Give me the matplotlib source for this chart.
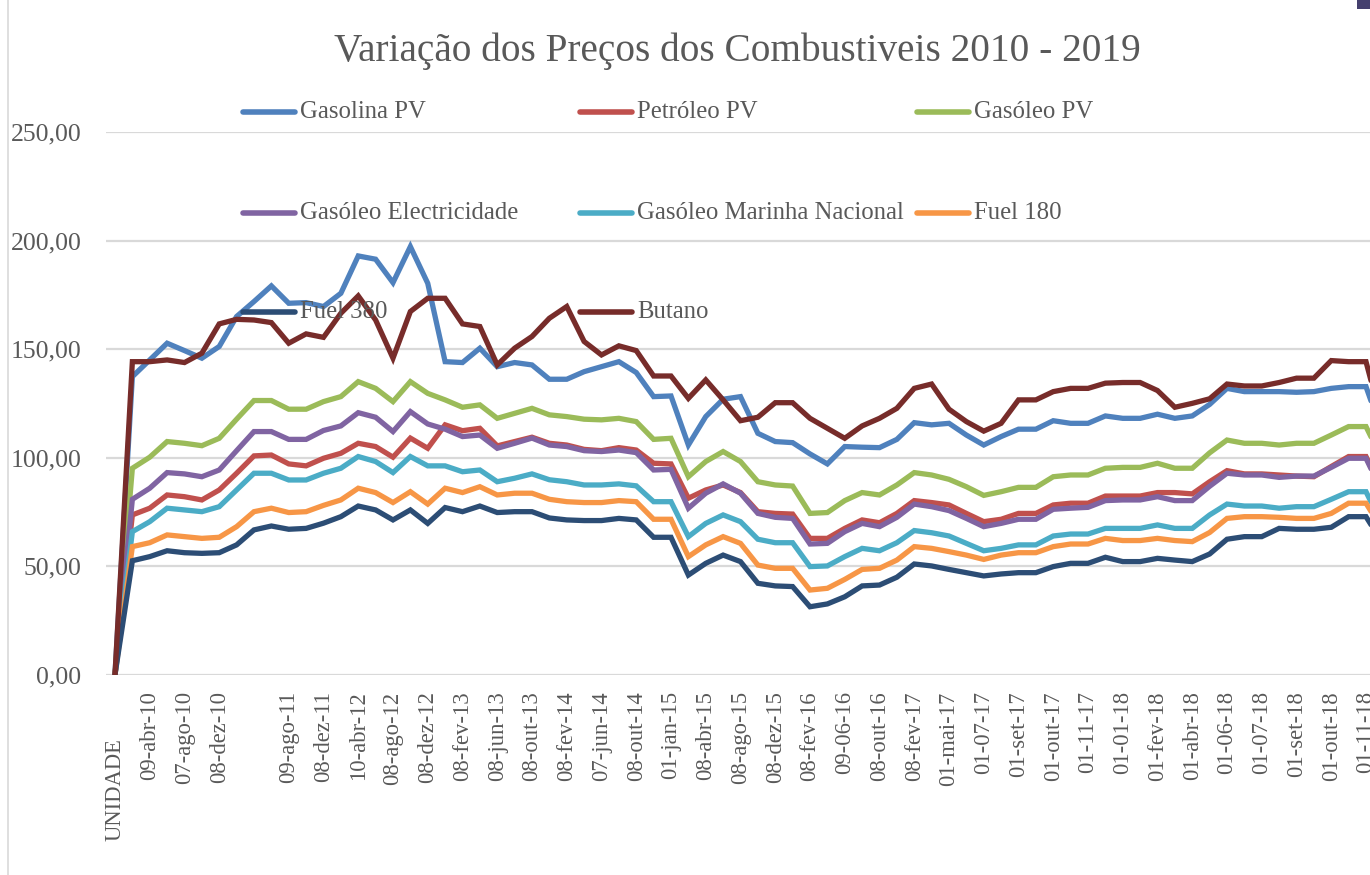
import numpy as np
import matplotlib
matplotlib.use('Agg')
import matplotlib.pyplot as plt
from matplotlib.lines import Line2D
from matplotlib.patches import Rectangle
from matplotlib.transforms import blended_transform_factory, ScaledTranslation

# ---- data ----
title = 'Variação dos Preços dos Combustiveis 2010 - 2019'

# labels visible on the category axis (every second category)
tick_labels = ['UNIDADE', '09-abr-10', '07-ago-10', '08-dez-10', '',
               '09-ago-11', '08-dez-11', '10-abr-12', '08-ago-12', '08-dez-12',
               '08-fev-13', '08-jun-13', '08-out-13', '08-fev-14', '07-jun-14',
               '08-out-14', '01-jan-15', '08-abr-15', '08-ago-15', '08-dez-15',
               '08-fev-16', '09-06-16', '08-out-16', '08-fev-17', '01-mai-17',
               '01-07-17', '01-set-17', '01-out-17', '01-11-17', '01-01-18',
               '01-fev-18', '01-abr-18', '01-06-18', '01-07-18', '01-set-18',
               '01-out-18', '01-11-18']

gasolina = [0, 137.3, 145, 152.7, 149.3, 145.8, 151.2, 165, 171.9, 179.1, 171.1, 171.4,
            169.6, 175.7, 192.9, 191.4, 180.6, 197.2, 180.3, 144.2, 143.8, 150.4, 141.9, 143.8, 142.7,
            136.1, 136.1, 139.6, 141.9, 144.2, 139.2, 128.1, 128.4, 105.8, 118.9, 126.9, 128.1,
            111.2, 107.4, 106.9, 101.7, 97.1, 105.1, 104.8, 104.6, 108.4, 116.1, 115.1, 115.8, 110.4,
            105.8, 109.7, 113.1, 113.1, 117, 115.8, 115.8, 119.2, 118.1, 118.1, 120, 118.1, 119.2,
            124.5, 131.9, 130.4, 130.4, 130.4, 130.1, 130.4, 131.9, 132.7, 132.7, 110]
petroleo = [0, 73.6, 76.7, 82.8, 82, 80.5, 85.1, 92.8, 100.8, 101.2, 97.1, 96.2,
            99.7, 102, 106.6, 105.1, 100.2, 109, 104.3, 115.1, 112.4, 113.5, 105.4, 107.4, 109.4,
            106.6, 105.8, 103.8, 103.2, 104.6, 103.5, 97.4, 97.1, 81.3, 85.1, 87.4, 83.9,
            75.1, 74.3, 74, 62.8, 62.8, 67.4, 71.3, 70, 74.3, 80.2, 79.3, 78.2, 74.3,
            70.5, 71.6, 74.3, 74.3, 78.2, 79, 79, 82.3, 82.3, 82.3, 83.9, 83.9, 83.3,
            88.9, 94, 92.5, 92.5, 92, 91.5, 91.2, 95.9, 100.5, 100.5, 84]
gasoleo = [0, 95.1, 100.2, 107.4, 106.6, 105.5, 108.9, 117.7, 126.3, 126.3, 122.3, 122.3,
           125.8, 128.1, 135, 131.9, 125.8, 135, 129.6, 126.6, 123.2, 124.3, 118.1, 120.4, 122.7,
           119.7, 118.9, 117.7, 117.4, 118.1, 116.6, 108.4, 108.9, 91.2, 98.2, 102.8, 98.2,
           88.9, 87.4, 86.9, 74.3, 74.7, 80.2, 83.9, 82.8, 87.4, 93.1, 92, 90, 86.6,
           82.6, 84.3, 86.3, 86.3, 91.2, 92, 92, 95.1, 95.5, 95.5, 97.4, 95.1, 95.1,
           102.2, 108.1, 106.6, 106.6, 105.8, 106.6, 106.6, 110.4, 114.3, 114.3, 98]
gasoleo_elec = [0, 80.8, 85.9, 93.1, 92.5, 91.2, 94.3, 103.2, 112, 112, 108.4, 108.4,
                112.5, 114.6, 120.7, 118.6, 112, 121.2, 115.5, 113.1, 109.7, 110.4, 104.3, 106.6, 109,
                105.8, 105.1, 103.2, 102.8, 103.5, 102.3, 94.3, 94.6, 76.7, 83.6, 87.9, 83.6,
                74.3, 72.5, 72, 60.2, 60.5, 65.9, 69.7, 68.2, 72.5, 78.6, 77.4, 75.6, 72,
                68.2, 69.7, 71.6, 71.6, 76.2, 76.7, 77.1, 80.2, 80.5, 80.5, 82, 80.2, 80.2,
                86.8, 92.8, 92, 92, 90.9, 91.5, 91.5, 95.5, 99.7, 99.7, 83]
gasoleo_marinha = [0, 65.9, 70.5, 76.7, 75.9, 75.1, 77.4, 85.1, 92.8, 92.8, 89.7, 89.7,
                   92.8, 95.1, 100.5, 98.2, 93.1, 100.5, 96.2, 96.2, 93.5, 94.3, 88.9, 90.5, 92.5,
                   89.8, 88.9, 87.4, 87.4, 87.9, 87, 79.7, 79.7, 63.6, 69.7, 73.6, 70.5,
                   62.4, 60.8, 60.8, 49.8, 50.1, 54.4, 58.2, 57.1, 60.8, 66.4, 65.4, 63.9, 60.5,
                   57.1, 58.2, 59.8, 59.8, 63.9, 64.8, 64.8, 67.4, 67.4, 67.4, 69, 67.4, 67.4,
                   73.6, 78.6, 77.7, 77.7, 76.7, 77.4, 77.4, 80.8, 84.3, 84.3, 68]
fuel_180 = [0, 59, 60.8, 64.4, 63.6, 62.8, 63.3, 68.2, 75.1, 76.7, 74.7, 75.1,
            78, 80.5, 85.9, 83.9, 79.3, 84.3, 78.6, 85.9, 83.9, 86.6, 82.8, 83.6, 83.6,
            80.8, 79.7, 79.3, 79.3, 80.2, 79.7, 71.6, 71.6, 54.4, 59.8, 63.6, 60.5,
            50.5, 49, 49, 39, 39.8, 43.9, 48.5, 49, 52.8, 59, 58.2, 56.7, 55.1,
            53.1, 55.1, 56.2, 56.2, 59, 60.2, 60.2, 62.8, 61.8, 61.8, 62.8, 61.8, 61.3,
            65.5, 72, 72.8, 72.8, 72.5, 72, 72, 74.3, 79, 79, 66]
fuel_380 = [0, 52.5, 54.4, 57.1, 56.2, 55.9, 56.2, 59.8, 66.7, 68.5, 67, 67.4,
            69.8, 72.8, 77.7, 75.9, 71.3, 75.9, 69.7, 77, 75.1, 77.7, 74.7, 75.1, 75.1,
            72.2, 71.3, 71, 71, 72, 71.3, 63.3, 63.3, 45.9, 51.3, 55.1, 52.1,
            42.1, 40.9, 40.6, 31.3, 32.6, 35.9, 40.9, 41.3, 44.9, 51, 50.1, 48.5, 47,
            45.5, 46.4, 47, 47, 49.8, 51.3, 51.3, 54.1, 52.1, 52.1, 53.6, 52.8, 52.1,
            55.6, 62.4, 63.6, 63.6, 67.4, 67, 67, 67.9, 72.8, 72.8, 60]
butano = [0, 144.2, 144.2, 145, 143.8, 148.1, 161.6, 163.7, 163.4, 162.2, 152.7, 157,
          155.4, 166.5, 174.5, 163.4, 145.8, 167.3, 173.4, 173.4, 161.6, 160.4, 142.7, 150.4, 155.8,
          164.2, 169.6, 153.5, 147.3, 151.5, 149.3, 137.6, 137.6, 127.3, 135.8, 126.6, 117,
          118.6, 125.3, 125.3, 118.1, 113.5, 108.9, 114.6, 118.1, 122.7, 131.9, 133.9, 122.3, 116.6,
          112.2, 115.8, 126.6, 126.6, 130.4, 131.9, 131.9, 134.3, 134.6, 134.6, 130.9, 123.2, 125,
          127.1, 133.9, 133, 133, 134.6, 136.6, 136.6, 144.7, 144.2, 144.2, 114]

series = [
    ('Gasolina PV', gasolina, '#4F81BD'),
    ('Petróleo PV', petroleo, '#C0504D'),
    ('Gasóleo PV', gasoleo, '#9BBB59'),
    ('Gasóleo Electricidade', gasoleo_elec, '#8064A2'),
    ('Gasóleo Marinha Nacional', gasoleo_marinha, '#4BACC6'),
    ('Fuel 180', fuel_180, '#F79646'),
    ('Fuel 380', fuel_380, '#2C4D75'),
    ('Butano', butano, '#772C2A'),
]

TXT = '#595959'
GRID = '#D9D9D9'
FONT = 'Liberation Serif'

W, H = 1370, 875
fig = plt.figure(figsize=(W / 100, H / 100), dpi=100)
fig.patch.set_facecolor('white')

# plot area: x from category -0.5, the image is cut on the right
ax = fig.add_axes([106.3 / W, 1 - 674.7 / H, 1 - 106.3 / W, (674.7 - 132) / H])
for name, vals, color in series:
    x = np.arange(len(vals))
    ax.plot(x, vals, color=color, lw=3.8, solid_joinstyle='miter', solid_capstyle='round')

ax.set_xlim(-0.5, (W - 115) / 17.375)
ax.set_ylim(0, 250)
ax.set_yticks(np.arange(0, 251, 50))
ax.set_yticklabels([f'{v:.2f}'.replace('.', ',') for v in np.arange(0, 251, 50)],
                   fontsize=18.5, color=TXT, family=FONT)
ax.set_xticks(np.arange(0, 2 * len(tick_labels), 2))
# first category label sits lower in the reference, drawn separately below
ax.set_xticklabels([''] + tick_labels[1:], rotation=90, fontsize=16.3, color=TXT,
                   family=FONT, ha='center', va='top')
ax.tick_params(axis='both', length=0)
ax.tick_params(axis='y', pad=18)
ax.tick_params(axis='x', pad=12)
ax.grid(axis='y', color=GRID, lw=1.6)
ax.set_axisbelow(True)
for s in ax.spines.values():
    s.set_visible(False)

trans = blended_transform_factory(ax.transData, ax.transAxes) + \
    ScaledTranslation(0, -0.63, fig.dpi_scale_trans)
ax.text(0, 0, tick_labels[0], transform=trans, rotation=90, ha='center', va='top',
        fontsize=16.3, color=TXT, family=FONT)

fig.text(737 / W, 1 - 51 / H, title, ha='center', va='center',
         fontsize=28.3, color=TXT, family=FONT)

# legend, laid out like the Excel legend (3 columns, 3 rows, over the plot)
col_x = [243, 580, 917]
row_y = [112, 213, 312]
for k, (name, vals, color) in enumerate(series):
    cx, ry = col_x[k % 3], row_y[k // 3]
    fig.add_artist(Line2D([cx / W, (cx + 52) / W], [1 - ry / H, 1 - ry / H],
                          color=color, lw=4, solid_capstyle='round', zorder=10))
    fig.text((cx + 57) / W, 1 - ry / H, name, ha='left', va='center',
             fontsize=17.8, color=TXT, family=FONT, zorder=11)

# chart border on the left and the dark corner at the top right
fig.add_artist(Line2D([8 / W, 8 / W], [0, 1], color=GRID, lw=1.2))
fig.add_artist(Rectangle((1357 / W, 1 - 9 / H), 13 / W, 9 / H, color='#45406E',
                         transform=fig.transFigure, lw=0))

fig.savefig('out.png', dpi=100)
